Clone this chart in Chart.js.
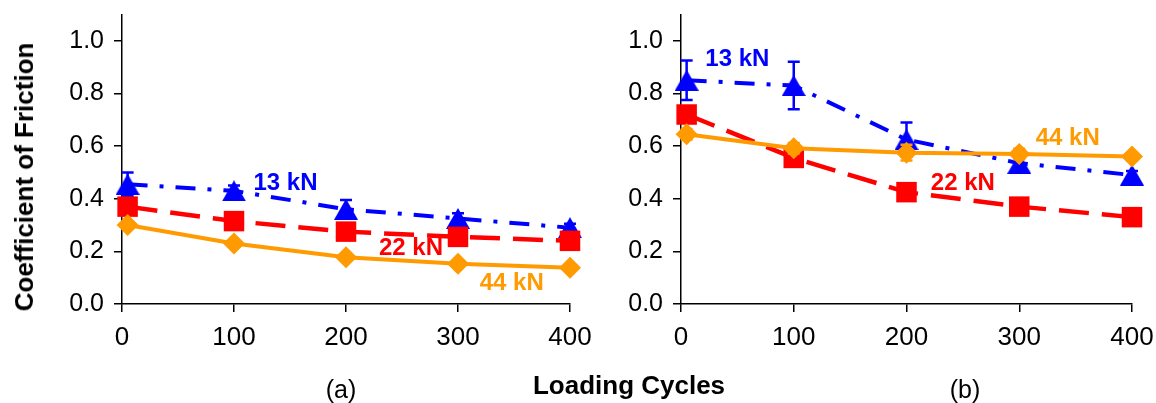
<!DOCTYPE html>
<html><head><meta charset="utf-8">
<script src="https://cdn.jsdelivr.net/npm/chart.js@4/dist/chart.umd.min.js"></script>
<style>
html,body{margin:0;padding:0;background:#fff;}
#wrap{position:relative;width:1156px;height:403px;overflow:hidden;font-family:"Liberation Sans",Arial,sans-serif;}
canvas{position:absolute;top:0;}
.t{position:absolute;white-space:nowrap;color:#000;line-height:1;transform:translate(-50%,-50%);}
</style></head><body>
<div id="wrap">
<canvas id="ca" width="591" height="403" style="left:0;width:591px;height:403px"></canvas>
<canvas id="cb" width="565" height="403" style="left:591px;width:565px;height:403px"></canvas>
<div class="t" style="left:24px;top:177px;font-size:26px;font-weight:bold;transform:translate(-50%,-50%) rotate(-90deg);">Coefficient of Friction</div>
<div class="t" style="left:629px;top:385px;font-size:26px;font-weight:bold;">Loading Cycles</div>
<div class="t" style="left:341px;top:389px;font-size:25px;">(a)</div>
<div class="t" style="left:965px;top:389px;font-size:25px;">(b)</div>
</div>
<script>
// ---- data ----
const cycles = [5, 100, 200, 300, 400];
const seriesNames = ['13 kN', '22 kN', '44 kN'];
// panel (a)
const a13 = [0.455, 0.43, 0.36, 0.325, 0.29];
const a13Err = [0.045, 0.02, 0.035, 0.02, 0.015];
const a22 = [0.37, 0.315, 0.275, 0.255, 0.24];
const a22Err = [0, 0, 0, 0, 0];
const a44 = [0.30, 0.23, 0.178, 0.153, 0.138];
const a44Err = [0.01, 0.01, 0.01, 0.01, 0.01];
// panel (b)
const b13 = [0.85, 0.83, 0.625, 0.535, 0.49];
const b13Err = [0.075, 0.09, 0.065, 0.02, 0.015];
const b22 = [0.72, 0.555, 0.425, 0.37, 0.33];
const b22Err = [0, 0, 0, 0, 0];
const b44 = [0.645, 0.592, 0.575, 0.57, 0.56];
const b44Err = [0.02, 0.02, 0.03, 0.02, 0.015];
// axis
const xTickValues = [0, 100, 200, 300, 400];
const yTickValues = [0, 0.2, 0.4, 0.6, 0.8, 1.0];
const xMin = 0, xMax = 400;
const yMin = 0, yMax = 1.1;
// series labels placed in data coordinates
const labelsA = [
  {text: '13 kN', x: 146, y: 0.46, color: '#0000FF'},
  {text: '22 kN', x: 258, y: 0.211, color: '#FF0000'},
  {text: '44 kN', x: 348, y: 0.079, color: '#FF9A00'}
];
const labelsB = [
  {text: '13 kN', x: 50, y: 0.93, color: '#0000FF'},
  {text: '22 kN', x: 250, y: 0.46, color: '#FF0000'},
  {text: '44 kN', x: 343, y: 0.629, color: '#FF9A00'}
];

const BLUE = '#0000FF', RED = '#FF0000', ORANGE = '#FF9A00';

function triangleImg(color) {
  const c = document.createElement('canvas');
  c.width = 24; c.height = 21;
  const g = c.getContext('2d');
  g.fillStyle = color;
  g.beginPath();
  g.moveTo(12, 0); g.lineTo(24, 21); g.lineTo(0, 21); g.closePath();
  g.fill();
  return c;
}
const triBlue = triangleImg(BLUE);

function pts(ys) { return cycles.map((c, i) => ({x: c, y: ys[i]})); }

function makeDatasets(v13, e13, v22, e22, v44, e44) {
  return [
    {label: seriesNames[2], data: pts(v44), errors: e44, borderColor: ORANGE, backgroundColor: ORANGE, clip: false,
     borderWidth: 4, pointStyle: 'rectRot', pointRadius: 11, pointBorderWidth: 0, tension: 0},
    {label: seriesNames[1], data: pts(v22), errors: e22, borderColor: RED, backgroundColor: RED, clip: false,
     borderWidth: 4.5, borderDash: [30, 13], pointStyle: 'rect', pointRadius: 14.5, pointBorderWidth: 0, tension: 0},
    {label: seriesNames[0], data: pts(v13), errors: e13, borderColor: BLUE, backgroundColor: BLUE, clip: false,
     borderWidth: 4, borderDash: [20, 12, 4, 12], pointStyle: triBlue, pointRadius: 11, pointBorderWidth: 0, tension: 0}
  ];
}

const errorBars = {
  id: 'errorBars',
  afterDatasetDraw(chart, args) {
    const ds = chart.data.datasets[args.index];
    if (!ds.errors) return;
    const ys = chart.scales.y, ctx = chart.ctx;
    ctx.save();
    ctx.strokeStyle = ds.borderColor;
    ctx.lineWidth = 2.5;
    ctx.setLineDash([]);
    args.meta.data.forEach((pt, i) => {
      const e = ds.errors[i];
      if (!e) return;
      const v = ds.data[i].y;
      const t = ys.getPixelForValue(v + e), b = ys.getPixelForValue(v - e);
      ctx.beginPath();
      ctx.moveTo(pt.x, t); ctx.lineTo(pt.x, b);
      ctx.moveTo(pt.x - 6, t); ctx.lineTo(pt.x + 6, t);
      ctx.moveTo(pt.x - 6, b); ctx.lineTo(pt.x + 6, b);
      ctx.stroke();
    });
    ctx.restore();
  }
};

const seriesLabels = {
  id: 'seriesLabels',
  afterDraw(chart, args, opts) {
    const ctx = chart.ctx, xs = chart.scales.x, ys = chart.scales.y;
    ctx.save();
    ctx.font = 'bold 24px "Liberation Sans", Arial, sans-serif';
    ctx.textAlign = 'center';
    ctx.textBaseline = 'middle';
    (opts.items || []).forEach(l => {
      ctx.fillStyle = l.color;
      ctx.fillText(l.text, xs.getPixelForValue(l.x), ys.getPixelForValue(l.y));
    });
    ctx.restore();
  }
};

function zeroPad(s) { s.paddingTop = 0; s.paddingBottom = 0; s.paddingLeft = 0; s.paddingRight = 0; }

function makeChart(id, datasets, labels, yWidth, padRight) {
  return new Chart(document.getElementById(id), {
    type: 'line',
    data: {datasets},
    plugins: [errorBars, seriesLabels],
    options: {
      responsive: false, animation: false, devicePixelRatio: 1,
      layout: {padding: {top: 12, left: 0, right: padRight, bottom: 0}},
      plugins: {legend: {display: false}, tooltip: {enabled: false}, seriesLabels: {items: labels}},
      scales: {
        x: {
          type: 'linear', min: xMin, max: xMax,
          ticks: {color: '#000', padding: 10,
                  font: {family: '"Liberation Sans", Arial, sans-serif', size: 26}},
          afterBuildTicks(s) { s.ticks = xTickValues.map(v => ({value: v})); },
          grid: {drawOnChartArea: false, color: '#000', lineWidth: 1.5, tickLength: 8},
          border: {color: '#000', width: 1.5},
          afterFit(s) { s.height = 99; zeroPad(s); }
        },
        y: {
          min: yMin, max: yMax,
          ticks: {color: '#000', padding: 10,
                  font: {family: '"Liberation Sans", Arial, sans-serif', size: 25},
                  callback: v => Number(v).toFixed(1)},
          afterBuildTicks(s) { s.ticks = yTickValues.map(v => ({value: v})); },
          grid: {drawOnChartArea: false, color: '#000', lineWidth: 1.5, tickLength: 8},
          border: {color: '#000', width: 1.5},
          afterFit(s) { s.width = yWidth; zeroPad(s); }
        }
      }
    }
  });
}

makeChart('ca', makeDatasets(a13, a13Err, a22, a22Err, a44, a44Err), labelsA, 122, 21);
makeChart('cb', makeDatasets(b13, b13Err, b22, b22Err, b44, b44Err), labelsB, 90, 24);
</script>
</body></html>
